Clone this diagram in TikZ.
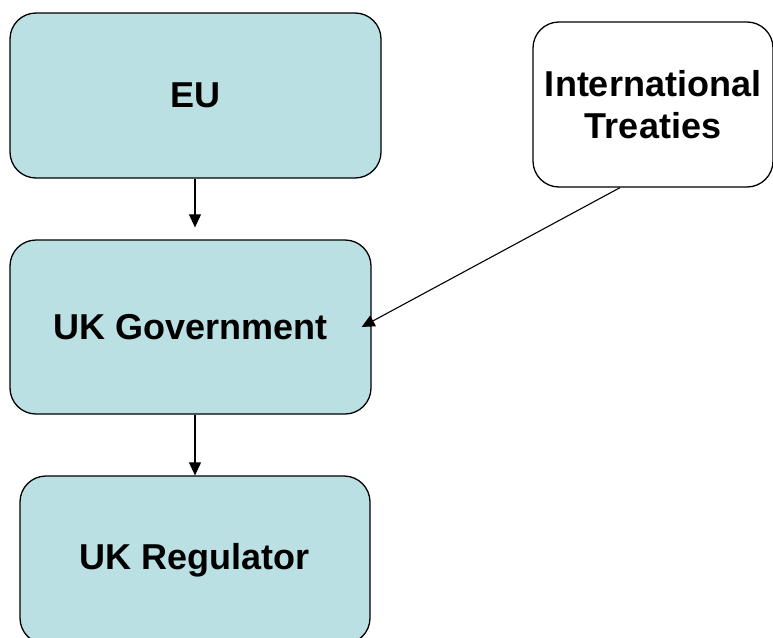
\documentclass[tikz,border=0pt]{standalone}
\usepackage{fontspec}
\setmainfont{Liberation Sans}
\usetikzlibrary{arrows.meta}
\definecolor{boxfill}{HTML}{BBE0E3}
\tikzset{
  box/.style={draw=black, line width=1.3pt, rounded corners=26pt,
    inner sep=0pt, align=center, font=\bfseries\fontsize{36}{42}\selectfont},
  flow/.style={draw=black, line width=1.1pt, -{Triangle[length=13pt,width=12pt]}}
}
\begin{document}
\begin{tikzpicture}[x=1pt,y=-1pt]
  \useasboundingbox (0,0) rectangle (773,637);
  \node[box, fill=boxfill, minimum width=371pt, minimum height=165pt]
    (eu) at (195.5,95.5) {EU};
  \node[box, fill=white, minimum width=240pt, minimum height=165pt]
    (tr) at (653,104.5) {International\\Treaties};
  \node[box, fill=boxfill, minimum width=361pt, minimum height=174pt]
    (gov) at (190.5,327) {UK Government};
  \node[box, fill=boxfill, minimum width=350pt, minimum height=168pt]
    (reg) at (195,560) {UK Regulator};
  \draw[flow] (eu.south -| 195,0) -- ([yshift=12pt]gov.north -| 195,0);
  \draw[flow] (gov.south -| 195,0) -- (reg.north -| 195,0);
  \draw[flow] ([xshift=-33pt]tr.south) -- ([xshift=-10pt]gov.east);
\end{tikzpicture}
\end{document}
